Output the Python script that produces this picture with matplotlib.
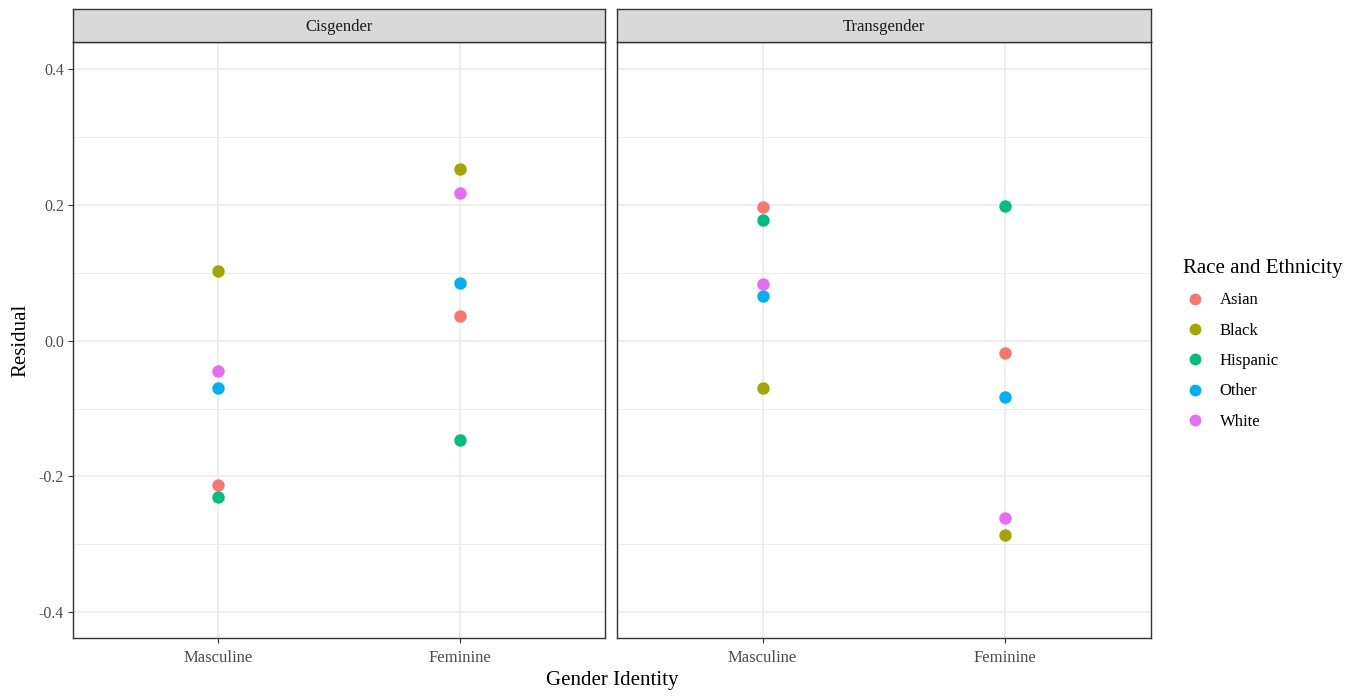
import numpy as np
import matplotlib.pyplot as plt
from matplotlib.lines import Line2D

plt.rcParams['font.family'] = ['Liberation Serif', 'DejaVu Serif']

# Data
panels = ["Cisgender", "Transgender"]
identities = ["Masculine", "Feminine"]
groups = ["Asian", "Black", "Hispanic", "Other", "White"]
colors = ["#F8766D", "#A3A500", "#00BF7D", "#00B0F6", "#E76BF3"]

# residuals per panel: group -> [Masculine, Feminine]
cis_resid = {
    "Asian": [-0.212, 0.037],
    "Black": [0.103, 0.253],
    "Hispanic": [-0.231, -0.146],
    "Other": [-0.069, 0.085],
    "White": [-0.044, 0.218],
}
trans_resid = {
    "Asian": [0.197, -0.018],
    "Black": [-0.069, -0.286],
    "Hispanic": [0.178, 0.199],
    "Other": [0.066, -0.083],
    "White": [0.083, -0.261],
}
residuals = [cis_resid, trans_resid]

W, H = 1360, 697
fig = plt.figure(figsize=(W / 100, H / 100), dpi=100)

panel_x = [(73, 605), (617, 1151)]
top, bottom = 42, 638
strip_top = 9

for i, (x0, x1) in enumerate(panel_x):
    ax = fig.add_axes([x0 / W, (H - bottom) / H, (x1 - x0) / W, (bottom - top) / H])
    xs = np.arange(1, len(identities) + 1)

    # ggplot-style grid
    for y in [-0.3, -0.1, 0.1, 0.3]:
        ax.axhline(y, color="#EBEBEB", lw=0.6, zorder=0)
    for y in [-0.4, -0.2, 0.0, 0.2, 0.4]:
        ax.axhline(y, color="#EBEBEB", lw=1.2, zorder=0)
    for x in xs:
        ax.axvline(x, color="#EBEBEB", lw=1.2, zorder=0)

    for g, c in zip(groups, colors):
        ax.scatter(xs, residuals[i][g], s=80, color=c, zorder=3, linewidths=0)

    ax.set_xlim(0.4, 2.6)
    ax.set_ylim(-0.438, 0.44)
    ax.set_xticks(xs)
    ax.set_xticklabels(identities, fontsize=12, color="#4D4D4D")
    ax.tick_params(axis="x", length=3.5, width=0.8, color="#333333", pad=5)
    ax.tick_params(axis="y", length=3.5, width=0.8, color="#333333", pad=3)
    if i == 0:
        ax.set_yticks([-0.4, -0.2, 0.0, 0.2, 0.4])
        ax.set_yticklabels(["-0.4", "-0.2", "0.0", "0.2", "0.4"], fontsize=11.5, color="#4D4D4D")
        ax.set_ylabel("Residual", fontsize=15, labelpad=6)
    else:
        ax.set_yticks([])
    for sp in ax.spines.values():
        sp.set_color("#333333")
        sp.set_linewidth(1.0)

    # facet strip
    sax = fig.add_axes([x0 / W, (H - top) / H, (x1 - x0) / W, (top - strip_top) / H])
    sax.set_xticks([])
    sax.set_yticks([])
    sax.set_facecolor("#D9D9D9")
    for sp in sax.spines.values():
        sp.set_color("#333333")
        sp.set_linewidth(1.0)
    sax.text(0.5, 0.45, panels[i], ha="center", va="center", fontsize=12,
             color="#1A1A1A", transform=sax.transAxes)

fig.text((73 + 1151) / 2 / W, 1 - 680 / H, "Gender Identity", ha="center", va="center", fontsize=15)

handles = [Line2D([], [], marker="o", linestyle="", markersize=8.5, markerfacecolor=c,
                  markeredgewidth=0) for c in colors]
leg = fig.legend(handles, groups, title="Race and Ethnicity", loc="upper left",
                 bbox_to_anchor=(1168 / W, 1 - 244 / H), frameon=False, fontsize=12,
                 title_fontsize=15, handletextpad=0.8, labelspacing=0.86,
                 handlelength=1.4)
leg._legend_box.align = "left"

fig.savefig("out.png", dpi=100)
